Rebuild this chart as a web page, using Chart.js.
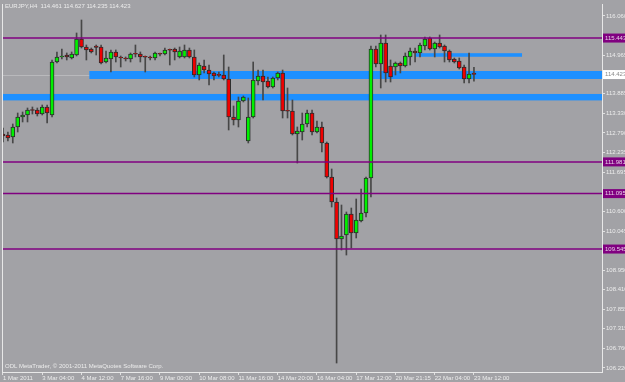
<!DOCTYPE html>
<html>
<head>
<meta charset="utf-8">
<script src="https://cdn.jsdelivr.net/npm/chart.js@4.4.1/dist/chart.umd.min.js"></script>
<style>
html, body { margin: 0; padding: 0; background: #a2a2a6; }
</style>
</head>
<body>
<canvas id="chart" width="625" height="382"></canvas>
<script>
const symbol = "EURJPY,H4";

const opens = [
  112.761, 112.733, 112.677, 112.957, 113.236, 113.292, 113.432, 113.432, 113.320, 113.516,
  113.292, 114.774, 114.914, 114.970, 114.886, 114.970, 115.417, 115.193, 115.137, 115.221,
  115.193, 114.774, 114.858, 115.054, 114.914, 114.886, 114.858, 114.998, 114.998, 114.914,
  114.914, 114.886, 114.998, 114.998, 115.110, 115.137, 114.914, 114.914, 115.110, 114.914,
  114.411, 114.662, 114.550, 114.467, 114.411, 114.411, 114.299, 113.236, 113.153, 113.684,
  112.566, 113.236, 114.243, 114.383, 114.243, 114.075, 114.327, 114.467, 113.404, 113.404,
  112.761, 112.817, 113.041, 113.348, 112.817, 112.957, 112.510, 111.559, 110.860, 109.826,
  109.938, 110.525, 109.994, 110.329, 110.553, 111.531, 115.137, 114.718, 115.305, 114.662,
  114.634, 114.746, 114.662, 114.914, 115.082, 115.026, 115.221, 115.445, 115.137, 115.305,
  115.221, 115.082, 114.858, 114.802, 114.634, 114.299, 114.461
];
const highs = [
  112.929, 112.817, 113.041, 113.348, 113.376, 113.488, 113.516, 113.488, 113.572, 113.572,
  114.830, 115.054, 115.137, 115.026, 115.054, 115.585, 115.948, 115.249, 115.165, 115.249,
  115.249, 115.082, 115.110, 115.110, 114.942, 114.914, 115.026, 115.249, 115.054, 114.942,
  114.942, 115.054, 115.026, 115.165, 115.137, 115.165, 115.193, 115.249, 115.165, 115.110,
  114.746, 114.830, 114.690, 114.494, 114.494, 114.970, 114.634, 113.544, 113.796, 113.824,
  113.768, 114.774, 114.550, 114.550, 114.355, 114.355, 114.494, 114.550, 114.047, 113.712,
  112.957, 113.348, 113.432, 113.432, 113.125, 113.097, 112.538, 111.783, 110.972, 110.776,
  110.581, 110.692, 110.944, 111.224, 111.559, 115.221, 115.221, 115.529, 115.529, 114.830,
  114.774, 114.774, 115.026, 115.165, 115.165, 115.305, 115.473, 115.473, 115.333, 115.529,
  115.249, 115.110, 114.886, 114.886, 114.690, 115.026, 114.627
];
const lows = [
  112.538, 112.566, 112.510, 112.817, 113.097, 113.097, 113.320, 113.264, 113.292, 113.069,
  113.236, 114.746, 114.858, 114.830, 114.858, 114.942, 115.165, 114.830, 115.026, 114.970,
  114.718, 114.746, 114.494, 114.774, 114.634, 114.802, 114.774, 114.914, 114.774, 114.494,
  114.830, 114.830, 114.942, 114.970, 114.690, 114.830, 114.886, 114.886, 114.886, 114.355,
  114.271, 114.467, 114.131, 114.271, 114.355, 114.271, 112.873, 113.013, 112.957, 113.656,
  112.510, 113.208, 114.131, 113.712, 114.047, 114.047, 114.271, 113.208, 113.208, 112.733,
  111.950, 112.593, 112.957, 112.733, 112.789, 112.258, 111.531, 110.720, 106.359, 109.518,
  109.378, 109.574, 109.854, 110.301, 110.441, 111.000, 114.634, 114.047, 114.215, 114.215,
  114.411, 114.467, 114.634, 114.690, 114.774, 114.914, 115.110, 115.110, 114.914, 115.165,
  114.774, 114.774, 114.746, 114.578, 114.187, 114.187, 114.235
];
const closes = [
  112.705, 112.649, 112.957, 113.236, 113.292, 113.432, 113.418, 113.320, 113.516, 113.348,
  114.774, 114.914, 114.942, 114.914, 114.998, 115.417, 115.193, 115.110, 115.054, 115.179,
  114.746, 114.886, 115.054, 114.914, 114.886, 114.858, 114.998, 114.990, 114.914, 114.906,
  114.886, 115.026, 114.990, 115.110, 115.101, 115.054, 115.082, 115.110, 114.914, 114.411,
  114.690, 114.550, 114.439, 114.383, 114.402, 114.299, 113.236, 113.153, 113.684, 113.796,
  113.236, 114.271, 114.383, 114.215, 114.075, 114.327, 114.467, 113.404, 113.396, 112.761,
  112.845, 113.041, 113.348, 112.817, 112.957, 112.510, 111.559, 110.860, 109.826, 109.910,
  110.525, 109.994, 110.357, 110.553, 111.531, 115.137, 114.718, 115.305, 114.467, 114.355,
  114.746, 114.662, 114.942, 115.082, 115.026, 115.249, 115.417, 115.137, 115.305, 115.193,
  115.082, 114.830, 114.774, 114.606, 114.299, 114.439, 114.423
];

// one label every 8 bars
const timeLabels = ["1 Mar 2011", "3 Mar 04:00", "4 Mar 12:00", "7 Mar 16:00", "9 Mar 00:00",
  "10 Mar 08:00", "11 Mar 16:00", "14 Mar 20:00", "16 Mar 04:00", "17 Mar 12:00",
  "20 Mar 21:15", "22 Mar 04:00", "23 Mar 12:00"];
const priceTicks = [116.060, 114.965, 113.885, 113.330, 112.790, 112.235, 111.695,
  110.600, 110.045, 108.950, 108.410, 107.855, 107.315, 106.760, 106.220];

const levelLines = [115.443, 111.981, 111.095, 109.545];
const zoneTops = [114.522, 113.880, 115.020];
const zoneBottoms = [114.299, 113.700, 114.920];
const zoneFrom = [17.6, -5, 84];
const zoneTo = [200, 200, 105.8];

const last = closes.length - 1;
const bidPrice = closes[last];

const BG = "#a2a2a6";
const TXT = "#ececec";
const FONT = '6px "Liberation Sans"';

const mtDecor = {
    id: "mtDecor",
    beforeDraw(chart) {
        const ctx = chart.ctx;
        ctx.save();
        ctx.fillStyle = BG;
        ctx.fillRect(0, 0, chart.width, chart.height);
        ctx.restore();
    },
    beforeDatasetsDraw(chart) {
        const {ctx, chartArea: a, scales: {x, y}} = chart;
        ctx.save();
        ctx.beginPath();
        ctx.rect(a.left, a.top, a.right - a.left, a.bottom - a.top);
        ctx.clip();
        // grey bid line
        ctx.strokeStyle = "#b9b9bc";
        ctx.lineWidth = 1;
        const by = Math.round(y.getPixelForValue(bidPrice)) + 0.5;
        ctx.beginPath(); ctx.moveTo(a.left, by); ctx.lineTo(a.right, by); ctx.stroke();
        // blue rectangles
        ctx.fillStyle = "#1e90ff";
        for (let k = 0; k < zoneTops.length; k++) {
            const x1 = Math.max(x.getPixelForValue(zoneFrom[k]), a.left);
            const x2 = Math.min(x.getPixelForValue(zoneTo[k]), a.right);
            const y1 = y.getPixelForValue(zoneTops[k]);
            const y2 = y.getPixelForValue(zoneBottoms[k]);
            ctx.fillRect(x1, y1, x2 - x1, y2 - y1);
        }
        ctx.restore();
    },
    afterDraw(chart) {
        const {ctx, chartArea: a, scales: {y}} = chart;
        ctx.save();
        // purple horizontal lines
        ctx.strokeStyle = "#800080";
        ctx.lineWidth = 1.5;
        levelLines.forEach(v => {
            const py = y.getPixelForValue(v);
            ctx.beginPath(); ctx.moveTo(a.left, py); ctx.lineTo(a.right, py); ctx.stroke();
        });
        // left frame
        ctx.strokeStyle = "#e8e8e8";
        ctx.lineWidth = 1;
        ctx.beginPath(); ctx.moveTo(a.left + 0.5, a.top); ctx.lineTo(a.left + 0.5, a.bottom); ctx.stroke();
        // price boxes on the axis
        ctx.font = FONT;
        ctx.textBaseline = "middle";
        ctx.textAlign = "left";
        levelLines.forEach(v => {
            const py = y.getPixelForValue(v);
            ctx.fillStyle = "#800080";
            ctx.fillRect(a.right + 1, py - 4.5, 30, 9);
            ctx.fillStyle = "#e6d0e6";
            ctx.fillText(v.toFixed(3), a.right + 3, py);
        });
        const bpy = y.getPixelForValue(bidPrice);
        ctx.fillStyle = "#ffffff";
        ctx.fillRect(a.right + 1, bpy - 4.5, 30, 9);
        ctx.fillStyle = "#8a8a8a";
        ctx.fillText(bidPrice.toFixed(3), a.right + 3, bpy);
        // header and footer text
        ctx.fillStyle = TXT;
        ctx.fillText(symbol + "  " + [opens[last], highs[last], lows[last], closes[last]].map(v => v.toFixed(3)).join(" "), a.left + 3, 6);
        ctx.fillText("ODL MetaTrader, \u00a9 2001-2011 MetaQuotes Software Corp.", a.left + 3, 366);
        ctx.restore();
    }
};

const bodies = opens.map((o, i) => ({x: i, y: [Math.min(o, closes[i]), Math.max(o, closes[i])]}));
const bodyColors = opens.map((o, i) => closes[i] >= o ? "#00f000" : "#f00000");
const wicks = lows.map((l, i) => ({x: i, y: [l, highs[i]]}));

new Chart(document.getElementById("chart"), {
    type: "bar",
    data: {
        datasets: [
            {
                data: bodies,
                backgroundColor: bodyColors,
                borderColor: "#2c2c2c",
                borderWidth: 1,
                borderSkipped: false,
                barThickness: 4,
                minBarLength: 1,
                grouped: false,
                order: 0,
            },
            {
                data: wicks,
                backgroundColor: "#474747",
                borderWidth: 0,
                barThickness: 1,
                grouped: false,
                order: 1,
            },
        ],
    },
    options: {
        responsive: false,
        animation: false,
        events: [],
        layout: { padding: { left: 2, top: 4, right: 0, bottom: 0 } },
        plugins: { legend: { display: false }, tooltip: { enabled: false } },
        scales: {
            x: {
                type: "linear",
                offset: false,
                min: -0.2,
                max: 122.1,
                afterBuildTicks: s => { s.ticks = timeLabels.map((t, k) => ({ value: k * 8 })); },
                afterFit: s => { s.height = 10; s.paddingLeft = 0; s.paddingRight = 0; },
                ticks: {
                    autoSkip: false,
                    maxRotation: 0,
                    align: "start",
                    padding: 0,
                    color: TXT,
                    font: { family: "Liberation Sans", size: 6 },
                    callback: v => timeLabels[Math.round(v / 8)],
                },
                grid: { offset: false, drawOnChartArea: false, drawTicks: true, tickLength: 3, color: "#e0e0e0" },
                border: { display: true, color: "#e8e8e8", width: 1 },
            },
            y: {
                position: "right",
                min: 106.108,
                max: 116.395,
                afterBuildTicks: s => { s.ticks = priceTicks.map(v => ({ value: v })); },
                afterFit: s => { s.width = 23; s.paddingTop = 0; s.paddingBottom = 0; },
                ticks: {
                    padding: 1,
                    color: TXT,
                    font: { family: "Liberation Sans", size: 6 },
                    callback: v => v.toFixed(3),
                },
                grid: { drawOnChartArea: false, drawTicks: true, tickLength: 3, color: "#e0e0e0" },
                border: { display: true, color: "#e8e8e8", width: 1 },
            },
        },
    },
    plugins: [mtDecor],
});
</script>
</body>
</html>
